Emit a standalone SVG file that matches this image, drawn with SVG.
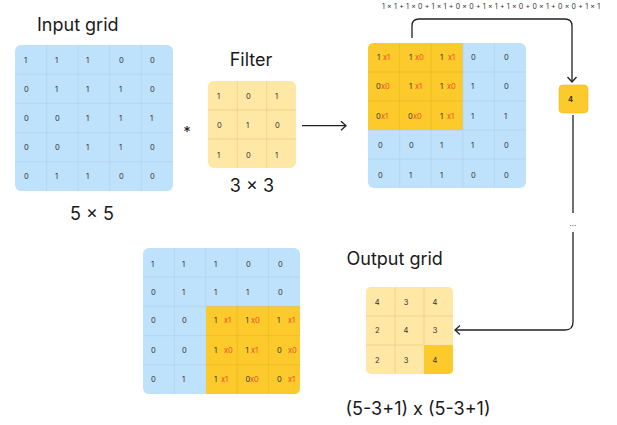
<svg xmlns="http://www.w3.org/2000/svg" width="617" height="425" viewBox="0 0 617 425">
<style>
.title{font-family:Inter,"Liberation Sans",sans-serif;font-size:18px;fill:#1a1a1a}
.d{font-family:Inter,"Liberation Sans",sans-serif;font-size:7.5px;fill:#333}
.r{font-family:Inter,"Liberation Sans",sans-serif;font-size:7.5px;fill:#F04E2E}
.blue{fill:#BEE1FC}
.orange{fill:#FCCA2B}
.light{fill:#FFE7A6}
.gb{stroke:#9FC3E2;stroke-width:0.7;opacity:0.45;fill:none}
.go{stroke:#D9A615;stroke-width:0.7;opacity:0.45;fill:none}
.gy{stroke:#E4C675;stroke-width:0.8;opacity:0.7;fill:none}
.conn{stroke:#222;stroke-width:1.3;fill:none}
</style>
<defs>
<marker id="ah" markerWidth="10" markerHeight="10" refX="7" refY="5" orient="auto" markerUnits="userSpaceOnUse">
<path d="M2,0.5 L7,5 L2,9.5" fill="none" stroke="#222" stroke-width="1.3"/>
</marker>
</defs>

<g id="input-grid">
<text class="title" x="37" y="31">Input grid</text>
<rect class="blue" x="15" y="45" width="158" height="146" rx="6"/>
<path class="gb" d="M46.6,45V191M78.2,45V191M109.8,45V191M141.4,45V191M15,74.2H173M15,103.4H173M15,132.6H173M15,161.8H173"/>
<g class="d">
<text x="24" y="62.7">1</text><text x="55" y="62.7">1</text><text x="86" y="62.7">1</text><text x="119" y="62.7">0</text><text x="150" y="62.7">0</text>
<text x="24" y="91.7">0</text><text x="55" y="91.7">1</text><text x="86" y="91.7">1</text><text x="119" y="91.7">1</text><text x="150" y="91.7">0</text>
<text x="24" y="120.7">0</text><text x="55" y="120.7">0</text><text x="86" y="120.7">1</text><text x="119" y="120.7">1</text><text x="150" y="120.7">1</text>
<text x="24" y="149.7">0</text><text x="55" y="149.7">0</text><text x="86" y="149.7">1</text><text x="119" y="149.7">1</text><text x="150" y="149.7">0</text>
<text x="24" y="178.7">0</text><text x="55" y="178.7">1</text><text x="86" y="178.7">1</text><text x="119" y="178.7">0</text><text x="150" y="178.7">0</text>
</g>
<text class="title" x="92" y="220" text-anchor="middle">5 × 5</text>
</g>

<g id="times">
<text x="187" y="137" text-anchor="middle" font-family="Inter,'Liberation Sans',sans-serif" font-size="15" fill="#222">*</text>
</g>

<g id="filter">
<text class="title" x="251" y="66" text-anchor="middle">Filter</text>
<rect class="light" x="208" y="81" width="88" height="87" rx="6"/>
<path class="gy" d="M237.3,81V168M266.7,81V168M208,110H296M208,139H296"/>
<g class="d">
<text x="217" y="99.4">1</text><text x="246" y="99.4">0</text><text x="275" y="99.4">1</text>
<text x="217" y="128.4">0</text><text x="246" y="128.4">1</text><text x="275" y="128.4">0</text>
<text x="217" y="157.7">1</text><text x="246" y="157.7">0</text><text x="275" y="157.7">1</text>
</g>
<text class="title" x="252" y="191.7" text-anchor="middle">3 × 3</text>
</g>

<g id="conv-step1">
<rect class="blue" x="368" y="43" width="158" height="145" rx="6"/>
<path class="orange" d="M368,130V49Q368,43 374,43H462.8V130Z"/>
<path class="go" d="M399.6,43V130M431.2,43V130M368,72H462.8M368,101H462.8"/>
<path class="gb" d="M399.6,130V188M431.2,130V188M462.8,43V188M494.4,43V188M462.8,72H526M462.8,101H526M368,130H526M368,159H526"/>
<g class="d">
<text x="377" y="60">1</text><text x="409" y="60">1</text><text x="440" y="60">1</text><text x="471" y="60">0</text><text x="504" y="60">0</text>
<text x="376" y="89.4">0</text><text x="409" y="89.4">1</text><text x="440" y="89.4">1</text><text x="471" y="89.4">1</text><text x="504" y="89.4">0</text>
<text x="376" y="118.7">0</text><text x="408" y="118.7">0</text><text x="440" y="118.7">1</text><text x="471" y="118.7">1</text><text x="504" y="118.7">1</text>
<text x="378" y="148.4">0</text><text x="409" y="148.4">0</text><text x="440" y="148.4">1</text><text x="471" y="148.4">1</text><text x="504" y="148.4">0</text>
<text x="378" y="177.7">0</text><text x="409" y="177.7">1</text><text x="440" y="177.7">1</text><text x="471" y="177.7">0</text><text x="504" y="177.7">0</text>
</g>
<g class="r">
<text x="383" y="60">x1</text><text x="415" y="60">x0</text><text x="448" y="60">x1</text>
<text x="381" y="89.4">x0</text><text x="415" y="89.4">x1</text><text x="447" y="89.4">x0</text>
<text x="381" y="118.7">x1</text><text x="413" y="118.7">x0</text><text x="447" y="118.7">x1</text>
</g>
</g>

<g id="formula">
<text x="382" y="9" font-family="Inter,'Liberation Sans',sans-serif" font-size="7" fill="#333" textLength="218" lengthAdjust="spacing">1 × 1 + 1 × 0 + 1 × 1 + 0 × 0 + 1 × 1 + 1 × 0 + 0 × 1 + 0 × 0 + 1 × 1</text>
</g>

<g id="result-cell">
<rect x="559" y="85" width="29" height="28" rx="4" fill="#FCCA2B" stroke="#EBB81F" stroke-width="0.6"/>
<text x="570.5" y="102" text-anchor="middle" font-family="Inter,'Liberation Sans',sans-serif" font-size="7.5" font-weight="600" fill="#222">4</text>
</g>

<g id="conv-step-last">
<rect class="blue" x="143" y="248" width="157" height="146" rx="6"/>
<path class="orange" d="M206,306H300V388Q300,394 294,394H206Z"/>
<path class="gb" d="M174.4,248V394M205.8,248V306M237.2,248V306M268.6,248V306M143,277.2H300M143,306.4H300M143,335.6H206M143,364.8H206"/>
<path class="go" d="M237.2,306V394M268.6,306V394M206,335.6H300M206,364.8H300"/>
<g class="d">
<text x="151" y="266.7">1</text><text x="182" y="266.7">1</text><text x="214" y="266.7">1</text><text x="246" y="266.7">0</text><text x="278" y="266.7">0</text>
<text x="151" y="295">0</text><text x="182" y="295">1</text><text x="214" y="295">1</text><text x="246" y="295">1</text><text x="278" y="295">0</text>
<text x="151" y="323.4">0</text><text x="182" y="323.4">0</text><text x="214" y="323.4">1</text><text x="245.5" y="323.4">1</text><text x="277" y="323.4">1</text>
<text x="151" y="352.7">0</text><text x="182" y="352.7">0</text><text x="214" y="352.7">1</text><text x="245.5" y="352.7">1</text><text x="277" y="352.7">0</text>
<text x="151" y="381.7">0</text><text x="182" y="381.7">1</text><text x="214" y="381.7">1</text><text x="245.5" y="381.7">0</text><text x="277" y="381.7">0</text>
</g>
<g class="r">
<text x="224" y="323.4">x1</text><text x="251" y="323.4">x0</text><text x="288" y="323.4">x1</text>
<text x="224" y="352.7">x0</text><text x="251" y="352.7">x1</text><text x="288" y="352.7">x0</text>
<text x="221" y="381.7">x1</text><text x="250" y="381.7">x0</text><text x="288" y="381.7">x1</text>
</g>
</g>

<g id="output-grid">
<text class="title" x="346.5" y="265">Output grid</text>
<rect class="light" x="366" y="287" width="87" height="87" rx="5"/>
<path class="orange" d="M424,345H453V369Q453,374 448,374H424Z"/>
<path class="gy" d="M395,287V374M424,287V345M366,316H453M366,345H424"/>
<g class="d" font-size="7">
<text x="377.3" y="305.2" text-anchor="middle">4</text><text x="406" y="305.2" text-anchor="middle">3</text><text x="435" y="305.2" text-anchor="middle">4</text>
<text x="377.3" y="333.2" text-anchor="middle">2</text><text x="406" y="333.2" text-anchor="middle">4</text><text x="435" y="333.2" text-anchor="middle">3</text>
<text x="377.3" y="362.5" text-anchor="middle">2</text><text x="406" y="362.5" text-anchor="middle">3</text><text x="435" y="362.5" text-anchor="middle">4</text>
</g>
<text class="title" x="418" y="415" text-anchor="middle">(5-3+1) x (5-3+1)</text>
</g>

<g id="connectors">
<path class="conn" d="M302,125.7H346" marker-end="url(#ah)"/>
<path class="conn" d="M412,38V26Q412,19 419,19H565Q572,19 572,26V82" marker-end="url(#ah)"/>
<path class="conn" d="M573,115V213"/>
<text x="573" y="226" text-anchor="middle" font-family="Inter,'Liberation Sans',sans-serif" font-size="7" fill="#333" letter-spacing="0.3">...</text>
<path class="conn" d="M573,232V322Q573,330 565,330H455" marker-end="url(#ah)"/>
</g>
</svg>
